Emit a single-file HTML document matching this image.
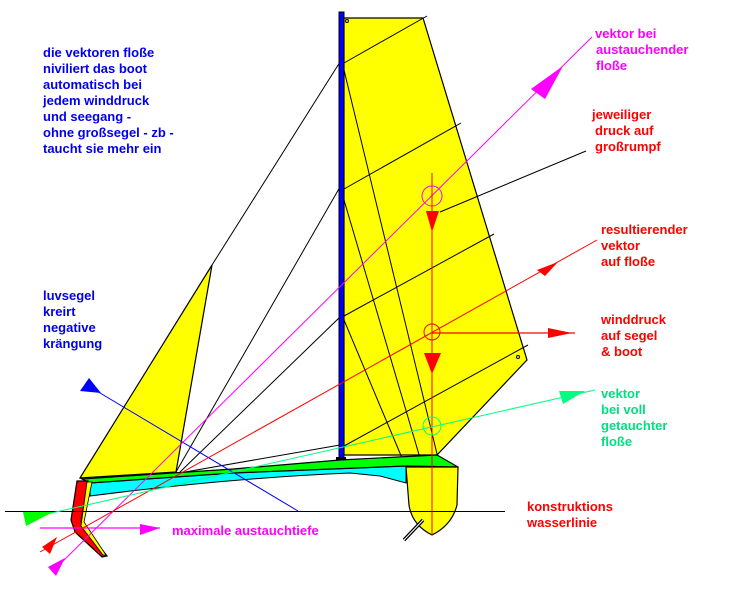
<!DOCTYPE html>
<html><head><meta charset="utf-8"><style>
html,body{margin:0;padding:0;background:#fff;width:750px;height:600px;overflow:hidden}
svg{display:block}
text{font-family:"Liberation Sans",sans-serif;font-weight:bold;font-size:13px}
</style></head><body>
<svg width="750" height="600" viewBox="0 0 750 600" xmlns="http://www.w3.org/2000/svg">
<!-- main sail -->
<polygon points="344,18 423,18 527,360 437,455 344,455" fill="#ffff00" stroke="#000" stroke-width="1.2"/>
<!-- jib -->
<polygon points="80,478 212,265 176,472" fill="#ffff00" stroke="#000" stroke-width="1.2"/>
<!-- black rigging lines -->
<g stroke="#000" stroke-width="1" fill="none">
<line x1="212" y1="265" x2="340" y2="62"/>
<line x1="176" y1="472" x2="340" y2="187"/>
<line x1="180" y1="472" x2="340" y2="317"/>
<line x1="185" y1="472" x2="340" y2="445"/>
<line x1="344" y1="63" x2="427" y2="16"/>
<line x1="344" y1="189" x2="461" y2="123"/>
<line x1="344" y1="316" x2="494" y2="234"/>
<line x1="344" y1="446" x2="528" y2="345"/>
<line x1="344" y1="70" x2="438" y2="458"/>
<line x1="344" y1="200" x2="420" y2="458"/>
<line x1="344" y1="320" x2="402" y2="458"/>
<line x1="440" y1="212" x2="586" y2="151"/>
</g>
<!-- hull cyan -->
<path d="M90,483 L233,473 L406,466 L406,483 L380,476 L350,473 Q230,478 90,496 Z" fill="#00ffff" stroke="#000" stroke-width="1"/>
<!-- green deck -->
<path d="M82,479 L233,469 L340,460 L437,455 L458,467 L406,466 L233,473 L90,483 Z" fill="#00ff00" stroke="#000" stroke-width="1.2"/>
<!-- main hull -->
<path d="M406,467 L458,467 L457,505 Q452,525 432,535 Q412,525 409,505 Z" fill="#ffff00" stroke="#000" stroke-width="1.2"/>
<!-- float -->
<path d="M77,481 L88,481 L81,522 L107,556 L102,557 L75,532 L71,520 Z" fill="#ff0000" stroke="#000" stroke-width="1.2"/>
<path d="M87,482 L92,482 L84,522 L106,555 L103,555 L81,526 Z" fill="#ffff00" stroke="#000" stroke-width="0.8"/>
<!-- mast -->
<rect x="339" y="12" width="5" height="448" fill="#0000ff" stroke="#000" stroke-width="1"/>
<rect x="336" y="457" width="10" height="3" fill="#000"/>
<circle cx="347" cy="21" r="1.5" fill="none" stroke="#000"/>
<circle cx="518" cy="357" r="1.5" fill="none" stroke="#000"/>
<!-- water line -->
<line x1="5" y1="511.5" x2="505" y2="511.5" stroke="#000" stroke-width="1"/>
<!-- blue -->
<line x1="90" y1="387" x2="298" y2="511" stroke="#0000ff" stroke-width="1"/>
<polygon points="80,391 89,378 101,393" fill="#0000ff"/>
<!-- magenta -->
<line x1="52" y1="572" x2="592" y2="37" stroke="#ff00ff" stroke-width="1"/>
<polygon points="531,89 563,66 545,99" fill="#ff00ff"/>
<polygon points="48,567 65,558 56,576" fill="#ff00ff"/>
<line x1="40" y1="528" x2="160" y2="528" stroke="#ff00ff" stroke-width="1.2"/>
<polygon points="140,524 160,528 140,535" fill="#ff00ff"/>
<circle cx="432" cy="196" r="10" fill="none" stroke="#ff00ff" stroke-width="1"/>
<!-- red -->
<line x1="40" y1="552" x2="597" y2="240" stroke="#ff0000" stroke-width="1"/>
<polygon points="537,270 558,262 545,276" fill="#ff0000"/>
<polygon points="42,547 57,537 50,554" fill="#ff0000"/>
<line x1="432" y1="173" x2="432" y2="535" stroke="#ff0000" stroke-width="1"/>
<polygon points="426,211 439,211 432,232" fill="#ff0000"/>
<polygon points="424,353 441,353 432,374" fill="#ff0000"/>
<line x1="432" y1="333" x2="575" y2="333" stroke="#ff0000" stroke-width="1.2"/>
<polygon points="548,328 572,333 548,338" fill="#ff0000"/>
<circle cx="432" cy="332" r="8" fill="none" stroke="#ff0000" stroke-width="1"/>
<!-- green vector -->
<line x1="25" y1="519" x2="595" y2="390" stroke="#00ff80" stroke-width="1"/>
<polygon points="559,391 585,391 563,404" fill="#00ff80"/>
<polygon points="23,512 53,512 26,526" fill="#00ff00"/>
<circle cx="432" cy="426" r="9" fill="none" stroke="#00ff80" stroke-width="1"/>
<!-- pencil -->
<line x1="404" y1="540" x2="423" y2="520" stroke="#000" stroke-width="3.5"/>
<line x1="404" y1="540" x2="423" y2="520" stroke="#fff" stroke-width="1"/>
<!-- texts -->
<g fill="#0000ee">
<text x="43" y="57">die vektoren floße</text>
<text x="43" y="73">niviliert das boot</text>
<text x="43" y="89">automatisch bei</text>
<text x="43" y="105">jedem winddruck</text>
<text x="43" y="121">und seegang -</text>
<text x="43" y="137">ohne großsegel - zb -</text>
<text x="43" y="153">taucht sie mehr ein</text>
<text x="43" y="300">luvsegel</text>
<text x="43" y="316">kreirt</text>
<text x="43" y="332">negative</text>
<text x="43" y="348">krängung</text>
</g>
<g fill="#ff00ff">
<text x="595" y="38">vektor bei</text>
<text x="596" y="54">austauchender</text>
<text x="596" y="70">floße</text>
<text x="172" y="535">maximale austauchtiefe</text>
</g>
<g fill="#ff0000">
<text x="592" y="119">jeweiliger</text>
<text x="595" y="135">druck auf</text>
<text x="595" y="151">großrumpf</text>
<text x="601" y="234">resultierender</text>
<text x="601" y="250">vektor</text>
<text x="601" y="266">auf floße</text>
<text x="601" y="324">winddruck</text>
<text x="601" y="340">auf segel</text>
<text x="601" y="356">&amp; boot</text>
<text x="527" y="511">konstruktions</text>
<text x="527" y="527">wasserlinie</text>
</g>
<g fill="#00e080">
<text x="601" y="398">vektor</text>
<text x="601" y="414">bei voll</text>
<text x="601" y="430">getauchter</text>
<text x="601" y="446">floße</text>
</g>
</svg>
</body></html>
